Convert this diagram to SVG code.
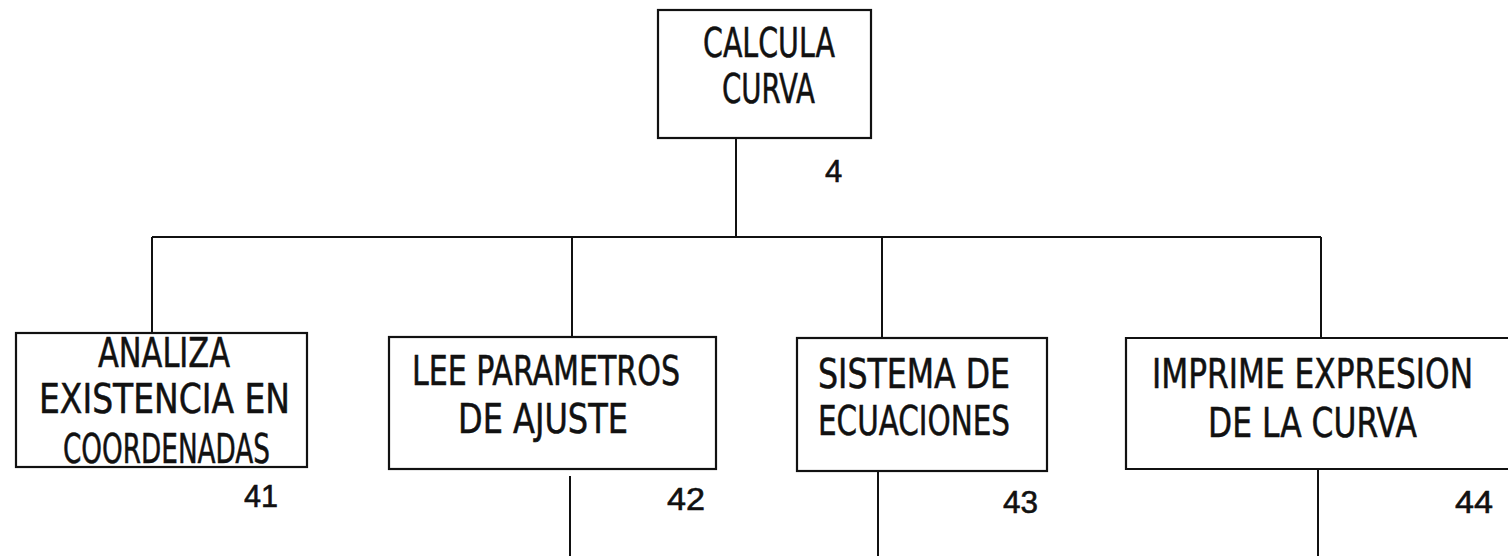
<svg xmlns="http://www.w3.org/2000/svg" width="1508" height="556" viewBox="0 0 1508 556">
<style>
.box{fill:none;stroke:#111;stroke-width:2.2}
.ln{fill:none;stroke:#111;stroke-width:2}
.t{font-family:"Liberation Sans Narrow","DejaVu Sans Condensed","Liberation Sans",sans-serif;font-size:40px;fill:#111;stroke:#111;stroke-width:0.5}
.n{font-family:"Liberation Sans","DejaVu Sans",sans-serif;font-size:31px;fill:#111;stroke:#111;stroke-width:0.6}
</style>
<rect width="1508" height="556" fill="#fff"/>
<g id="connectors">
<line class="ln" x1="736" y1="138" x2="736" y2="237"/>
<line class="ln" x1="152" y1="237" x2="1321" y2="237"/>
<line class="ln" x1="152" y1="237" x2="152" y2="333"/>
<line class="ln" x1="572" y1="237" x2="572" y2="337"/>
<line class="ln" x1="882" y1="237" x2="882" y2="338"/>
<line class="ln" x1="1321" y1="237" x2="1321" y2="338"/>
<line class="ln" x1="570" y1="476" x2="570" y2="556"/>
<line class="ln" x1="878" y1="471" x2="878" y2="556"/>
<line class="ln" x1="1318" y1="469" x2="1318" y2="556"/>
</g>
<g id="node-4">
<rect class="box" x="658" y="10" width="213" height="128"/>
<text class="t" x="703" y="57" textLength="132" lengthAdjust="spacingAndGlyphs">CALCULA</text>
<text class="t" x="722" y="103" textLength="93" lengthAdjust="spacingAndGlyphs">CURVA</text>
<text class="n" x="825" y="182">4</text>
</g>
<g id="node-41">
<rect class="box" x="16" y="333" width="291" height="134"/>
<text class="t" x="98" y="367" textLength="132" lengthAdjust="spacingAndGlyphs">ANALIZA</text>
<text class="t" x="39" y="413" textLength="251" lengthAdjust="spacingAndGlyphs">EXISTENCIA EN</text>
<text class="t" x="63" y="463" textLength="207" lengthAdjust="spacingAndGlyphs">COORDENADAS</text>
<text class="n" x="244" y="507" textLength="34" lengthAdjust="spacingAndGlyphs">41</text>
</g>
<g id="node-42">
<rect class="box" x="389" y="337" width="327" height="132"/>
<text class="t" x="412" y="385" textLength="268" lengthAdjust="spacingAndGlyphs">LEE PARAMETROS</text>
<text class="t" x="458" y="433" textLength="170" lengthAdjust="spacingAndGlyphs">DE AJUSTE</text>
<text class="n" x="667" y="510" textLength="38" lengthAdjust="spacingAndGlyphs">42</text>
</g>
<g id="node-43">
<rect class="box" x="797" y="338" width="250" height="133"/>
<text class="t" x="818" y="388" textLength="192" lengthAdjust="spacingAndGlyphs">SISTEMA DE</text>
<text class="t" x="818" y="435" textLength="192" lengthAdjust="spacingAndGlyphs">ECUACIONES</text>
<text class="n" x="1003" y="513" textLength="35" lengthAdjust="spacingAndGlyphs">43</text>
</g>
<g id="node-44">
<path class="box" d="M1508 338 H1126 V469 H1508"/>
<text class="t" x="1152" y="388" textLength="321" lengthAdjust="spacingAndGlyphs">IMPRIME EXPRESION</text>
<text class="t" x="1208" y="437" textLength="209" lengthAdjust="spacingAndGlyphs">DE LA CURVA</text>
<text class="n" x="1455" y="513" textLength="38" lengthAdjust="spacingAndGlyphs">44</text>
</g>
</svg>
